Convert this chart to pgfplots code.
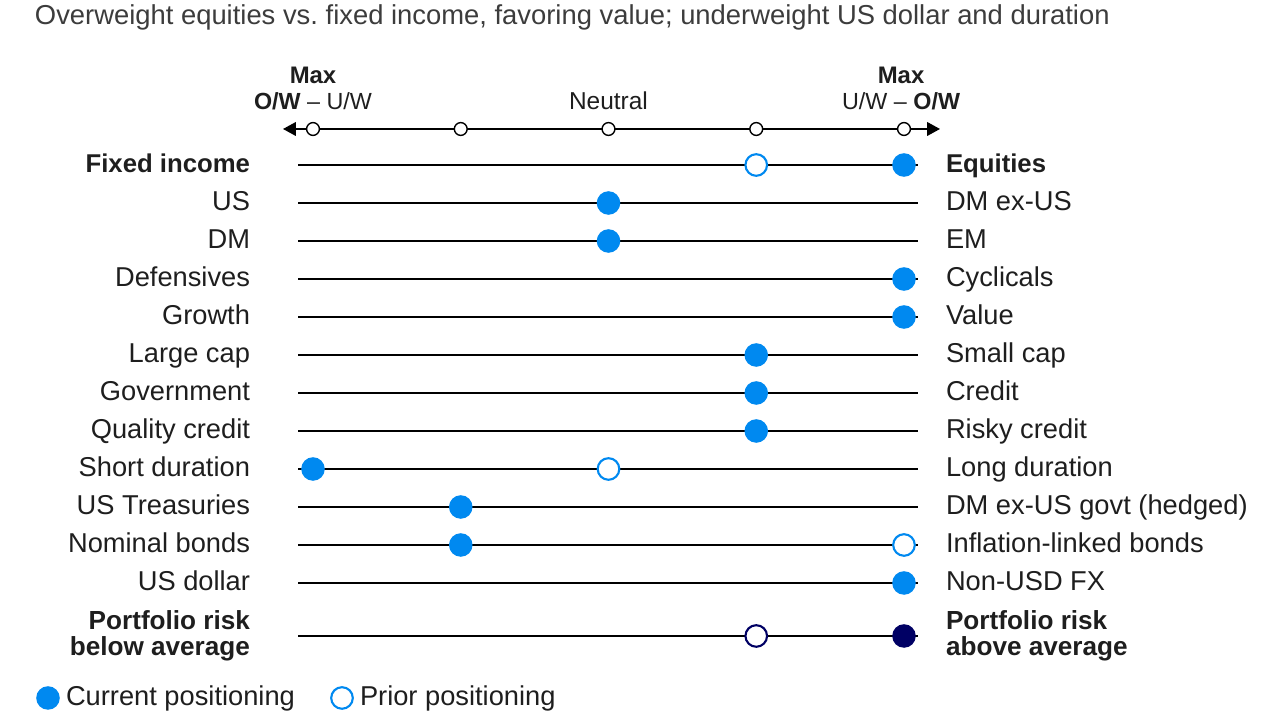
\documentclass[border=0pt]{standalone}
\usepackage{pgfplots}
\pgfplotsset{compat=1.18}
\usepackage{fontspec}
\setmainfont{Liberation Sans}
\usetikzlibrary{arrows.meta}
\definecolor{curblue}{RGB}{0,137,240}
\definecolor{riskblue}{RGB}{0,0,100}
\definecolor{txt}{RGB}{30,30,30}
\definecolor{ttl}{RGB}{60,60,60}

% x: positioning level 1 (max O/W left) ... 5 (max O/W right)
% y: row position, 1 unit = 1 px of the 1280x720 picture
\newcommand\lx{0.5736}  % right edge of left labels
\newcommand\rx{5.2843}  % left edge of right labels
\newcommand\lfont{\fontsize{9.7}{11}\selectfont}
\newcommand\bfont{\fontsize{9.15}{11}\selectfont\bfseries}
\newcommand\rfont{\fontsize{9.3}{9.3}\selectfont\bfseries}

\tikzset{lbl/.style={font=\lfont, text=txt, inner sep=0pt, outer sep=0pt}}

\begin{document}
\begin{tikzpicture}
\begin{axis}[
  width=16cm, height=9cm, scale only axis,
  xmin=-1.1184, xmax=7.5448,
  ymin=0, ymax=720, y dir=reverse,
  hide axis, clip=false,
]
\path (rel axis cs:0,0) rectangle (rel axis cs:1,1);

% title
\node[lbl, anchor=mid west, text=ttl, font=\fontsize{9.74}{11}\selectfont] at (axis cs:-0.8816,17)
  {Overweight equities vs.\ fixed income, favoring value; underweight US dollar and duration};

% scale
\addplot[black, line width=0.55pt, {Triangle[length=1.6mm,width=1.7mm]}-{Triangle[length=1.6mm,width=1.7mm]}]
  coordinates {(0.797,129) (5.2437,129)};
\addplot[only marks, mark=*, mark size=0.8mm, mark options={fill=white, draw=black, line width=0.5pt}]
  coordinates {(1,129) (2,129) (3,129) (4,129) (5,129)};
\node[lbl, anchor=base, font=\fontsize{8.5}{10}\selectfont\bfseries] at (axis cs:1,84) {Max};
\node[lbl, anchor=base, font=\fontsize{8.3}{10}\selectfont] at (axis cs:1,110) {\textbf{O/W} -- U/W};
\node[lbl, anchor=base, font=\fontsize{8.7}{10}\selectfont] at (axis cs:3,110) {Neutral};
\node[lbl, anchor=base, font=\fontsize{8.5}{10}\selectfont\bfseries] at (axis cs:4.98,84) {Max};
\node[lbl, anchor=base, font=\fontsize{8.3}{10}\selectfont] at (axis cs:4.98,110) {U/W -- \textbf{O/W}};

% row lines
\pgfplotsinvokeforeach{165,203,241,279,317,355,393,431,469,507,545,583,636}{
  \addplot[black, line width=0.55pt] coordinates {(0.8985,#1) (5.0948,#1)};
}

% prior positioning
\addplot[only marks, mark=*, mark size=1.35mm, mark options={fill=white, draw=curblue, line width=0.75pt}]
  coordinates {(4,165) (3,469) (5,545)};
% current positioning
\addplot[only marks, mark=*, mark size=1.4mm, color=curblue]
  coordinates {(5,165) (3,203) (3,241) (5,279) (5,317) (4,355) (4,393) (4,431)
               (1,469) (2,507) (2,545) (5,583)};
% portfolio risk
\addplot[only marks, mark=*, mark size=1.35mm, mark options={fill=white, draw=riskblue, line width=0.75pt}]
  coordinates {(4,636)};
\addplot[only marks, mark=*, mark size=1.4mm, color=riskblue]
  coordinates {(5,636)};

% left labels
\node[lbl, anchor=mid east, font=\bfont] at (axis cs:\lx,165) {Fixed income};
\node[lbl, anchor=mid east] at (axis cs:\lx,203) {US};
\node[lbl, anchor=mid east] at (axis cs:\lx,241) {DM};
\node[lbl, anchor=mid east] at (axis cs:\lx,279) {Defensives};
\node[lbl, anchor=mid east] at (axis cs:\lx,317) {Growth};
\node[lbl, anchor=mid east] at (axis cs:\lx,355) {Large cap};
\node[lbl, anchor=mid east] at (axis cs:\lx,393) {Government};
\node[lbl, anchor=mid east] at (axis cs:\lx,431) {Quality credit};
\node[lbl, anchor=mid east] at (axis cs:\lx,469) {Short duration};
\node[lbl, anchor=mid east] at (axis cs:\lx,507) {US Treasuries};
\node[lbl, anchor=mid east] at (axis cs:\lx,545) {Nominal bonds};
\node[lbl, anchor=mid east] at (axis cs:\lx,583) {US dollar};
\node[lbl, anchor=base east, align=right, font=\rfont] at (axis cs:\lx,656)
  {Portfolio risk\\below average};

% right labels
\node[lbl, anchor=mid west, font=\bfont] at (axis cs:\rx,165) {Equities};
\node[lbl, anchor=mid west] at (axis cs:\rx,203) {DM ex-US};
\node[lbl, anchor=mid west] at (axis cs:\rx,241) {EM};
\node[lbl, anchor=mid west] at (axis cs:\rx,279) {Cyclicals};
\node[lbl, anchor=mid west] at (axis cs:\rx,317) {Value};
\node[lbl, anchor=mid west] at (axis cs:\rx,355) {Small cap};
\node[lbl, anchor=mid west] at (axis cs:\rx,393) {Credit};
\node[lbl, anchor=mid west] at (axis cs:\rx,431) {Risky credit};
\node[lbl, anchor=mid west] at (axis cs:\rx,469) {Long duration};
\node[lbl, anchor=mid west] at (axis cs:\rx,507) {DM ex-US govt (hedged)};
\node[lbl, anchor=mid west] at (axis cs:\rx,545) {Inflation-linked bonds};
\node[lbl, anchor=mid west] at (axis cs:\rx,583) {Non-USD FX};
\node[lbl, anchor=base west, align=left, font=\rfont] at (axis cs:\rx,656)
  {Portfolio risk\\above average};

% legend
\addplot[only marks, mark=*, mark size=1.4mm, color=curblue] coordinates {(-0.7936,698)};
\addplot[only marks, mark=*, mark size=1.35mm, mark options={fill=white, draw=curblue, line width=0.75pt}]
  coordinates {(1.1963,698)};
\node[lbl, anchor=mid west] at (axis cs:-0.6717,698) {Current positioning};
\node[lbl, anchor=mid west] at (axis cs:1.3181,698) {Prior positioning};
\end{axis}
\end{tikzpicture}
\end{document}
